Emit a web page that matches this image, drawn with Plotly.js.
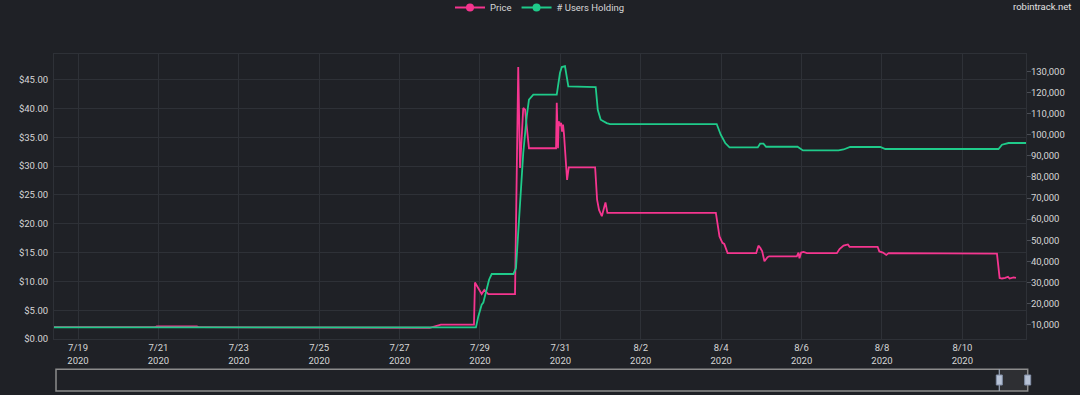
<!DOCTYPE html>
<html>
<head>
<meta charset="utf-8">
<script src="https://cdn.plot.ly/plotly-3.0.1.min.js"></script>
<style>
html,body{margin:0;padding:0;background:#1f2126;}
#chart{width:1080px;height:395px;}
</style>
</head>
<body>
<div id="chart"></div>
<script>
// ---- Data ----
const seriesNames = ['Price', '# Users Holding'];

const priceTimes = [
  '2020-07-18 09:40','2020-07-20 22:00','2020-07-20 23:00','2020-07-21 23:00','2020-07-22 00:00',
  '2020-07-24 12:00','2020-07-27 18:00','2020-07-28 00:40','2020-07-28 20:25','2020-07-28 21:00',
  '2020-07-29 01:00','2020-07-29 02:35','2020-07-29 05:00','2020-07-29 20:55','2020-07-29 22:50',
  '2020-07-29 23:55','2020-07-30 01:50','2020-07-30 02:55','2020-07-30 05:15','2020-07-30 21:25',
  '2020-07-30 21:50','2020-07-30 22:35','2020-07-30 23:00','2020-07-30 23:45','2020-07-31 00:25',
  '2020-07-31 01:00','2020-07-31 01:35','2020-07-31 02:10','2020-07-31 04:00','2020-07-31 05:00',
  '2020-07-31 20:45','2020-07-31 21:55','2020-07-31 23:05','2020-08-01 00:45','2020-08-01 02:55',
  '2020-08-01 04:05','2020-08-03 20:50','2020-08-03 23:00','2020-08-04 00:45','2020-08-04 01:50',
  '2020-08-04 03:50','2020-08-04 20:55','2020-08-04 22:15','2020-08-04 23:25','2020-08-05 00:30',
  '2020-08-05 01:50','2020-08-05 03:40','2020-08-05 04:40','2020-08-05 21:10','2020-08-05 22:10',
  '2020-08-05 22:45','2020-08-05 23:45','2020-08-06 01:10','2020-08-06 03:10','2020-08-06 21:05',
  '2020-08-06 22:40','2020-08-07 01:05','2020-08-07 03:40','2020-08-07 04:40','2020-08-07 21:25',
  '2020-08-07 22:25','2020-08-08 00:35','2020-08-08 02:35','2020-08-08 04:00','2020-08-10 20:40',
  '2020-08-10 22:15','2020-08-10 23:40','2020-08-11 01:35','2020-08-11 03:15','2020-08-11 04:10',
  '2020-08-11 06:35','2020-08-11 08:00'
];
const priceValues = [
  2.05, 2.05, 2.2, 2.2, 2.05,
  2.0, 1.95, 2.5, 2.5, 9.8,
  7.8, 8.5, 7.8, 7.8, 47.2,
  29.7, 40.1, 39.8, 33.1, 33.1,
  41.0, 33.1, 37.8, 37.0, 37.5,
  36.0, 37.2, 35.5, 27.6, 29.8,
  29.8, 24.2, 22.4, 21.3, 23.7,
  21.9, 21.9, 17.8, 16.7, 16.5,
  14.9, 14.9, 16.2, 15.8, 15.2,
  13.5, 14.2, 14.35, 14.35, 15.0,
  14.0, 15.0, 15.1, 14.9, 14.9,
  15.6, 16.2, 16.4, 16.0, 16.0,
  15.2, 15.0, 14.6, 14.9, 14.8,
  10.6, 10.5, 10.6, 10.8, 10.5,
  10.7, 10.6
];

const userTimes = [
  '2020-07-18 09:40','2020-07-28 21:35','2020-07-28 23:00','2020-07-29 01:00','2020-07-29 02:00',
  '2020-07-29 04:00','2020-07-29 05:25','2020-07-29 07:00','2020-07-29 19:55','2020-07-29 21:30',
  '2020-07-29 23:30','2020-07-30 01:50','2020-07-30 03:55','2020-07-30 05:15','2020-07-30 07:50',
  '2020-07-30 21:50','2020-07-30 23:45','2020-07-31 00:50','2020-07-31 02:45','2020-07-31 03:45',
  '2020-07-31 04:45','2020-07-31 21:05','2020-07-31 22:20','2020-08-01 00:05','2020-08-01 03:40',
  '2020-08-01 05:40','2020-08-03 21:20','2020-08-03 23:45','2020-08-04 02:25','2020-08-04 05:00',
  '2020-08-04 21:50','2020-08-04 23:15','2020-08-05 01:15','2020-08-05 02:50','2020-08-05 21:35',
  '2020-08-06 00:50','2020-08-06 22:05','2020-08-07 01:05','2020-08-07 05:00','2020-08-07 23:00',
  '2020-08-08 02:00','2020-08-10 21:35','2020-08-10 23:40','2020-08-11 03:35','2020-08-11 14:00'
];
const userValues = [
  8720, 8720, 13930, 19470, 20500,
  26580, 31320, 34020, 34020, 36860,
  64480, 91330, 108670, 116580, 118950,
  118950, 129230, 132070, 132540, 128420,
  122880, 122600, 111840, 107110, 105530,
  105060, 105060, 100000, 96070, 93990,
  93990, 95740, 95740, 94300, 94300,
  92570, 92570, 93000, 94180, 94180,
  93230, 93230, 95270, 96070, 96070
];

const xRange = ['2020-07-18 09:40', '2020-08-11 14:00'];
const priceRange = [0, 49.46];
const userRange = [3226, 138243];
const sourceLabel = 'robintrack.net';

// ---- Styling ----
const PINK = '#f5358f';
const GREEN = '#1fcb8a';
const BG = '#1f2126';
const GRID = '#2e3137';
const TXT = '#d6d6d6';
const FONT = 'Roboto, Open Sans, sans-serif';

const traces = [
  {x: priceTimes, y: priceValues, name: seriesNames[0], type: 'scatter', mode: 'lines',
   line: {color: PINK, width: 1.8}, yaxis: 'y', showlegend: false},
  {x: userTimes, y: userValues, name: seriesNames[1], type: 'scatter', mode: 'lines',
   line: {color: GREEN, width: 1.8}, yaxis: 'y2', showlegend: false},
  // legend entries (line + marker symbol as in the reference legend)
  {x: [null], y: [null], name: seriesNames[0], type: 'scatter', mode: 'lines+markers',
   line: {color: PINK, width: 2}, marker: {color: PINK, size: 8}, yaxis: 'y'},
  {x: [null], y: [null], name: seriesNames[1], type: 'scatter', mode: 'lines+markers',
   line: {color: GREEN, width: 2}, marker: {color: GREEN, size: 8}, yaxis: 'y2'}
];

// paper coords for the range-slider look-alike under the axis
const PL = 54, PW = 972, PB = 339, PH = 285;
const px = v => (v - PL) / PW;
const py = v => (PB - v) / PH;
const handleShape = (xc) => ({type: 'rect', xref: 'paper', yref: 'paper',
  x0: px(xc - 3), x1: px(xc + 3), y0: py(385), y1: py(375),
  fillcolor: '#b7c2d6', line: {color: '#8390a8', width: 1}});

const shapes = [
  {type: 'rect', xref: 'paper', yref: 'paper', x0: px(999.3), x1: px(1027.7), y0: py(391), y1: py(369.3),
   fillcolor: '#2e2f33', line: {width: 0}, layer: 'below'},
  {type: 'rect', xref: 'paper', yref: 'paper', x0: px(56), x1: px(1027.7), y0: py(391), y1: py(369.3),
   fillcolor: 'rgba(0,0,0,0)', line: {color: '#8c8c8c', width: 1.5}},
  {type: 'line', xref: 'paper', yref: 'paper', x0: px(999.3), x1: px(999.3), y0: py(391), y1: py(369.3),
   line: {color: '#9aa5b8', width: 1.2}},
  handleShape(999.3),
  handleShape(1027.7)
];

const layout = {
  width: 1080, height: 395,
  paper_bgcolor: BG, plot_bgcolor: BG,
  font: {family: FONT, size: 9.5, color: TXT},
  margin: {l: PL, r: 1080 - PL - PW, t: 54, b: 395 - PB, autoexpand: false},
  showlegend: true,
  legend: {orientation: 'h', x: 0.5, xanchor: 'center', yref: 'paper', y: (PB + 7) / PH, yanchor: 'top',
           font: {family: FONT, size: 9.5, color: TXT}, bgcolor: 'rgba(0,0,0,0)', itemwidth: 30},
  xaxis: {type: 'date', range: xRange, tick0: '2020-07-19', dtick: 2 * 86400000,
          tickformat: '%-m/%-d<br>%Y', showgrid: true, gridcolor: GRID, gridwidth: 1,
          showline: true, linecolor: GRID, mirror: true, ticks: '', zeroline: false,
          tickfont: {family: FONT, size: 9.5, color: TXT}},
  yaxis: {range: priceRange, dtick: 5, tickprefix: '$', tickformat: '.2f',
          showgrid: true, gridcolor: GRID, zeroline: false, showline: true, linecolor: GRID,
          ticks: '', ticklabelstandoff: 3, tickfont: {family: FONT, size: 9.5, color: TXT}},
  yaxis2: {range: userRange, dtick: 10000, tickformat: ',d', overlaying: 'y', side: 'right',
           showgrid: false, zeroline: false, showline: true, linecolor: GRID,
           ticks: 'outside', ticklen: 4, tickcolor: '#4a4d54', ticklabelstandoff: -2,
           tickfont: {family: FONT, size: 9.5, color: TXT}},
  annotations: [{text: sourceLabel, xref: 'paper', yref: 'paper', x: px(1073), y: py(7),
                 xanchor: 'right', yanchor: 'middle', showarrow: false,
                 font: {family: FONT, size: 9.5, color: '#e2e2e2'}}],
  shapes: shapes
};

Plotly.newPlot('chart', traces, layout, {displayModeBar: false, staticPlot: true});
</script>
</body>
</html>
